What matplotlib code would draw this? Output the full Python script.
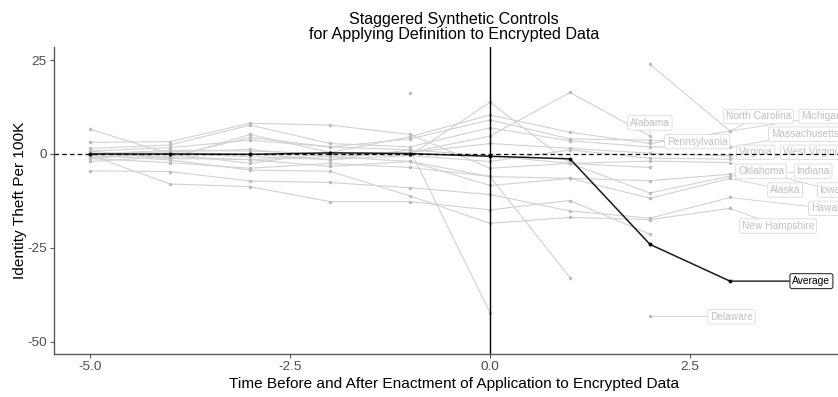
import numpy as np
import matplotlib
matplotlib.use("Agg")
import matplotlib.pyplot as plt

nan = np.nan

# Event time relative to enactment
time = [-5, -4, -3, -2, -1, 0, 1, 2, 3]

# Gap between treated state and its synthetic control (identity theft per 100K)
michigan       = [0.3, -1.2, 5.2, 0.4, 4.6, 10.4, 5.8, 2.8, 6.1]
north_carolina = [nan, nan, nan, nan, nan, nan, nan, 23.9, 6.1]
massachusetts  = [1.5, 2.4, 7.7, 2.8, 1.9, 7.0, 3.5, 1.9, 1.8]
virginia       = [0.0, 0.6, 1.2, -0.7, 0.4, 2.8, 1.5, 0.2, -0.5]
west_virginia  = [-0.8, 0.0, -0.7, -1.5, -0.4, -2.0, 1.1, -1.1, -1.4]
iowa           = [0.8, 1.7, 3.7, 1.9, 1.1, -0.5, -2.5, -1.9, -2.3]
oklahoma       = [-1.2, -2.3, -3.8, -2.5, -3.6, -6.0, -6.5, -7.1, -5.4]
indiana        = [3.1, 3.3, 8.2, 7.7, 5.2, -3.8, -2.5, -10.4, -5.9]
alaska         = [-2.0, -0.7, -1.5, -3.3, -2.0, -8.4, -6.5, -11.8, -6.5]
hawaii         = [-4.5, -4.7, -7.2, -7.6, -9.0, -10.8, -15.2, -17.1, -11.6]
new_hampshire  = [-0.3, -1.6, -4.3, -4.6, -11.2, -18.5, -16.9, -17.5, -14.5]
alabama        = [6.6, 0.0, -2.5, 0.4, 0.4, 4.8, 16.4, 4.8, nan]
pennsylvania   = [0.3, -0.7, 4.4, 1.9, 4.0, 9.1, 4.0, 3.7, nan]
delaware       = [nan, nan, nan, nan, nan, nan, nan, -43.3, nan]
other_a        = [-0.3, -8.0, -8.7, -12.7, -12.7, -14.9, -12.4, -21.4, nan]
other_b        = [0.0, 1.0, 0.8, 0.0, -0.4, 13.8, -2.5, -3.6, nan]
other_c        = [0.8, -1.2, -1.5, -0.7, -2.0, -6.0, -33.0, nan, nan]
other_d        = [-1.2, 0.3, 0.0, -1.5, 1.1, -42.3, nan, nan, nan]
other_e        = [nan, nan, nan, nan, 16.2, nan, nan, nan, nan]

average        = [0.0, 0.0, -0.1, 0.3, 0.1, -0.6, -1.3, -24.1, -33.9]

state_names = ["Michigan", "North Carolina", "Massachusetts", "Virginia",
               "West Virginia", "Iowa", "Oklahoma", "Indiana", "Alaska",
               "Hawaii", "New Hampshire", "Alabama", "Pennsylvania",
               "Delaware", None, None, None, None, None]
state_gaps = [michigan, north_carolina, massachusetts, virginia,
              west_virginia, iowa, oklahoma, indiana, alaska, hawaii,
              new_hampshire, alabama, pennsylvania, delaware,
              other_a, other_b, other_c, other_d, other_e]

# Label placement (left edge of text, vertical centre) in data units
label_pos = {
    "Michigan": (3.89, 10.0), "Iowa": (4.12, -9.6), "Indiana": (3.83, -4.6),
    "West Virginia": (3.66, 0.45), "Hawaii": (4.01, -14.5),
    "Massachusetts": (3.51, 5.3), "North Carolina": (2.95, 10.0),
    "Virginia": (3.11, 0.45), "Oklahoma": (3.10, -4.6),
    "Alaska": (3.50, -9.6), "New Hampshire": (3.15, -19.2),
    "Alabama": (1.75, 8.3), "Pennsylvania": (2.21, 3.3),
    "Delaware": (2.75, -43.4),
}
average_label_pos = (3.78, -33.9)

plt.rcParams["font.family"] = ["Liberation Sans", "DejaVu Sans"]
plt.rcParams["axes.unicode_minus"] = False

fig = plt.figure(figsize=(8.38, 3.97), dpi=100)
ax = fig.add_axes([54 / 838, 43 / 397, 800 / 838, 307 / 397])

t = np.array(time, dtype=float)
line_grey = "#d2d2d2"
point_grey = "#bbbbbb"

for vals in state_gaps:
    v = np.array(vals, dtype=float)
    ax.plot(t, v, color=line_grey, lw=0.8, zorder=2, solid_capstyle="round")
    ax.plot(t, v, ls="none", marker="o", ms=2.5, mfc=point_grey,
            mec="none", zorder=2.5)

ax.plot(t, average, color="#1a1a1a", lw=1.1, zorder=3)
ax.plot(t, average, ls="none", marker="o", ms=2.8, mfc="black",
        mec="none", zorder=3.2)

# Labels at each state's last observed period
for name in label_pos:
    vals = state_gaps[state_names.index(name)]
    idx = max(i for i, v in enumerate(vals) if not np.isnan(v))
    ax.annotate(name, xy=(time[idx], vals[idx]), xytext=label_pos[name],
                textcoords="data", ha="left", va="center", fontsize=7.3,
                color="#c2c2c2", zorder=4, annotation_clip=False,
                bbox=dict(boxstyle="round,pad=0.22,rounding_size=0.2",
                          fc="white", ec="#dadada", lw=0.6),
                arrowprops=dict(arrowstyle="-", color="#cfcfcf", lw=0.6,
                                shrinkA=0, shrinkB=1.5))

ax.annotate("Average", xy=(time[-1], average[-1]), xytext=average_label_pos,
            textcoords="data", ha="left", va="center", fontsize=7.4,
            color="black", zorder=4.5, annotation_clip=False,
            bbox=dict(boxstyle="round,pad=0.24,rounding_size=0.2",
                      fc="white", ec="#333333", lw=0.8),
            arrowprops=dict(arrowstyle="-", color="#1a1a1a", lw=1.0,
                            shrinkA=0, shrinkB=0))

ax.axvline(0, color="black", lw=1.0, zorder=5)
ax.axhline(0, color="black", lw=0.9, ls=(0, (3.6, 2.6)), zorder=5)

ax.set_xlim(-5.45, 4.55)
ax.set_ylim(-53.33, 28.53)
ax.set_xticks([-5.0, -2.5, 0.0, 2.5])
ax.set_xticklabels(["-5.0", "-2.5", "0.0", "2.5"])
ax.set_yticks([-50, -25, 0, 25])
ax.set_yticklabels(["-50", "-25", "0", "25"])

for side in ("top", "right"):
    ax.spines[side].set_visible(False)
for side in ("left", "bottom"):
    ax.spines[side].set_color("#5a5a5a")
    ax.spines[side].set_linewidth(1.0)
ax.tick_params(axis="both", colors="#5a5a5a", length=3, width=0.8,
               labelsize=9.7, labelcolor="#4d4d4d", pad=2)

ax.set_xlabel("Time Before and After Enactment of Application to Encrypted Data",
              fontsize=11.1, labelpad=3)
ax.set_ylabel("Identity Theft Per 100K", fontsize=11.1, labelpad=0)
ax.set_title("Staggered Synthetic Controls\nfor Applying Definition to Encrypted Data",
             fontsize=11.6, linespacing=0.95, pad=6)

fig.savefig("out.png", dpi=100)
